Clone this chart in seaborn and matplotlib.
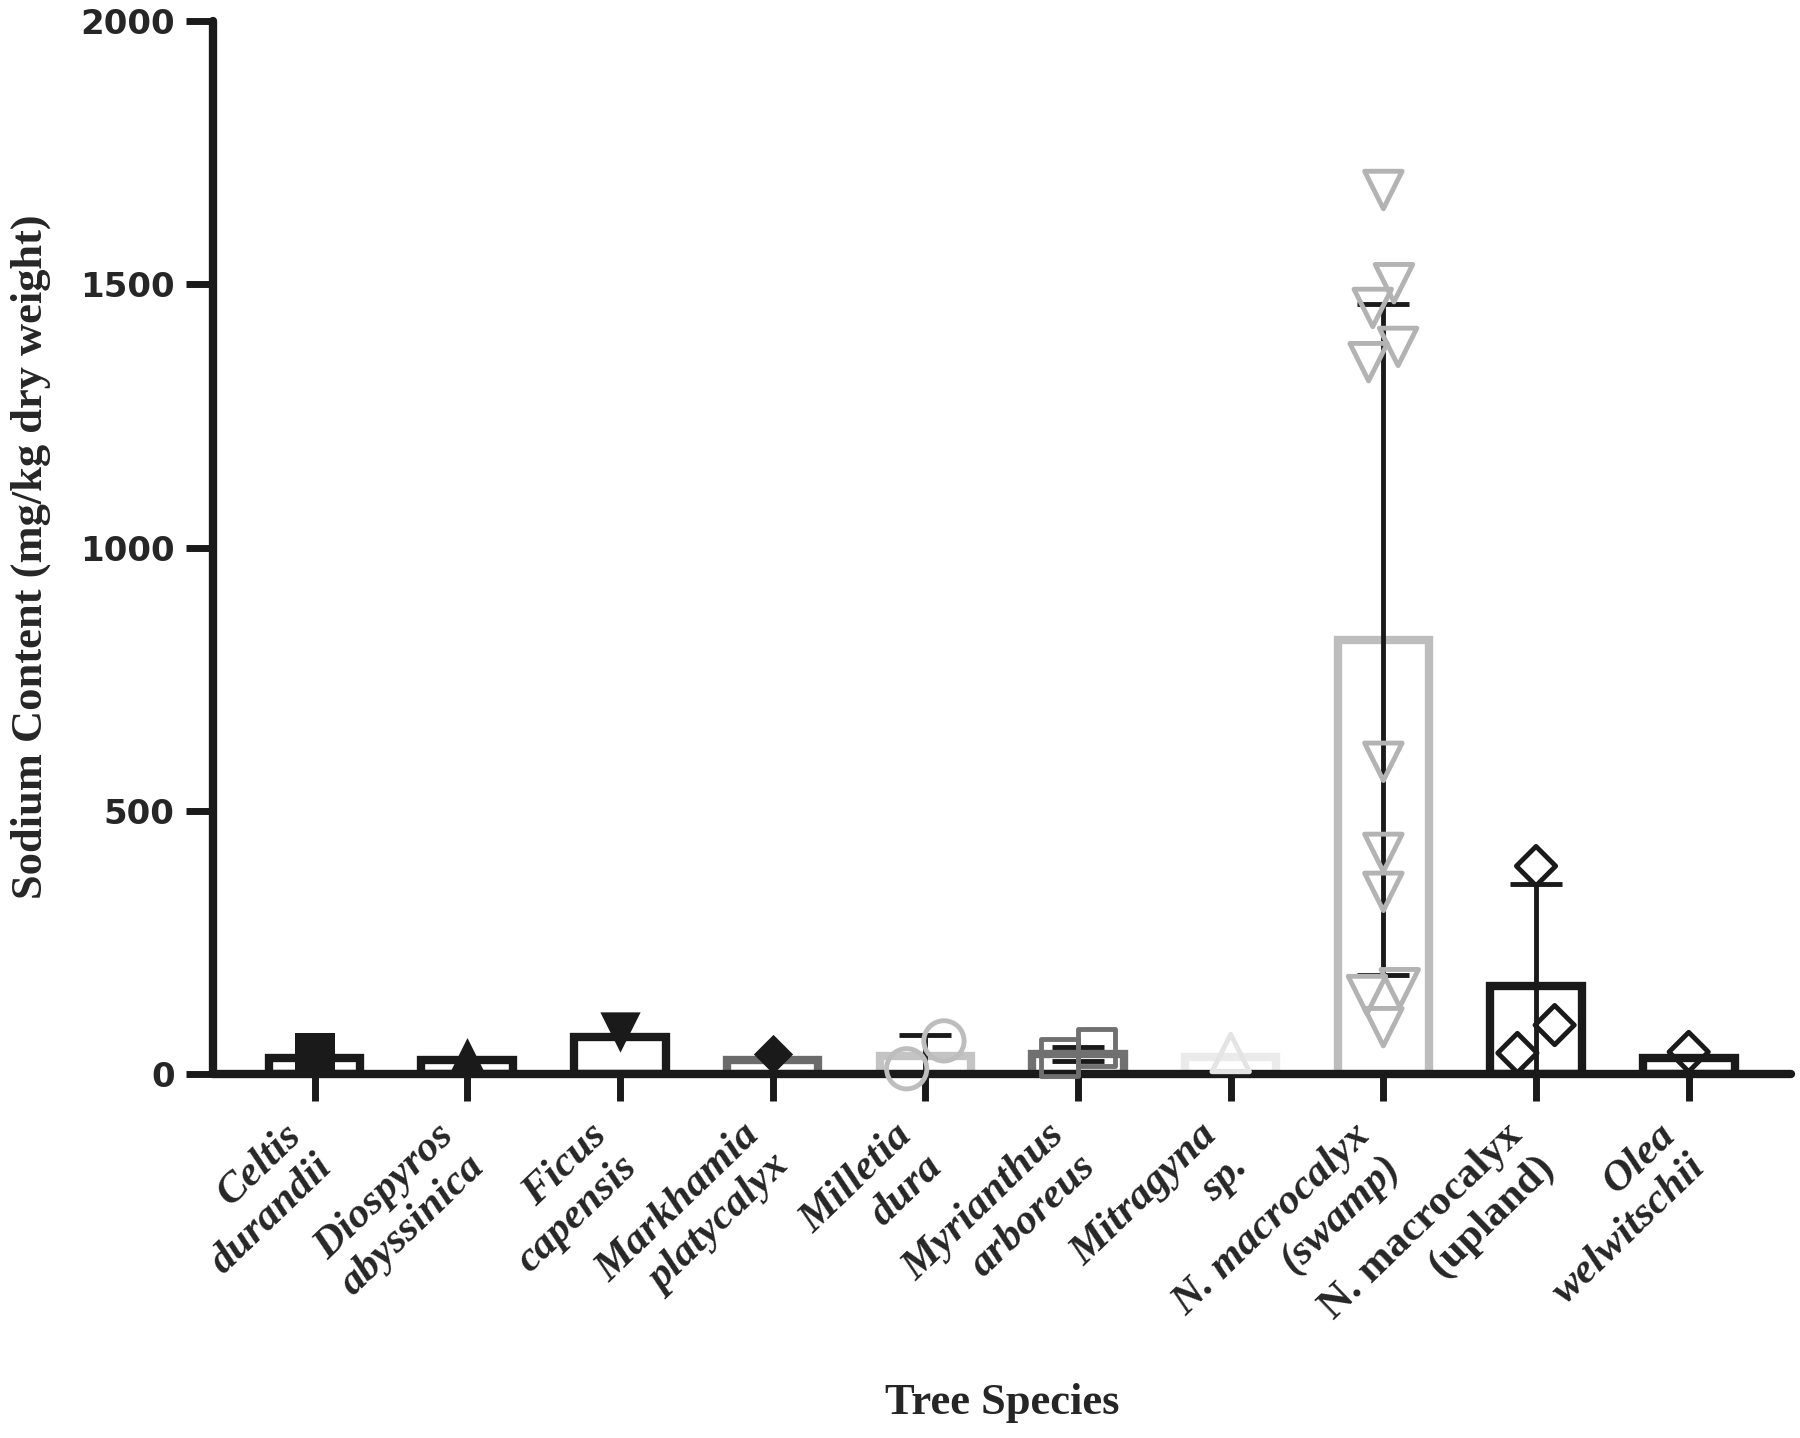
"""
Sodium content of tree species leaves (bar = mean, whiskers = SD, points = samples)
"""
import matplotlib
matplotlib.use("Agg")
import matplotlib.pyplot as plt
import matplotlib.transforms as mtrans
import numpy as np
import pandas as pd
import seaborn as sns

species = ["Celtis\ndurandii", "Diospyros\nabyssinica", "Ficus\ncapensis",
           "Markhamia\nplatycalyx", "Milletia\ndura", "Myrianthus\narboreus",
           "Mitragyna\nsp.", "N. macrocalyx\n(swamp)", "N. macrocalyx\n(upland)",
           "Olea\nwelwitschii"]

# individual readings (mg/kg dry weight)
celtis = [40]
diospyros = [32]
ficus = [80]
markhamia = [38]
milletia = [10, 63]
myrianthus = [31, 50]
mitragyna = [40]
swamp = [1679, 1502, 1455, 1381, 1352, 593, 420, 346, 163, 150, 89]
upland = [40, 93, 395]
olea = [42]
samples = [celtis, diospyros, ficus, markhamia, milletia, myrianthus,
           mitragyna, swamp, upland, olea]

# bar heights and SD whiskers as drawn
means = [30, 27, 70, 26, 35, 38, 33, 825, 168, 30]
sds = [0, 0, 0, 0, 40, 14, 0, 637, 192, 0]

bar_colors = ["#1a1a1a", "#1a1a1a", "#1a1a1a", "#6b6b6b", "#c4c4c4",
              "#707070", "#ebebeb", "#bdbdbd", "#1a1a1a", "#1a1a1a"]
markers = ["s", "^", "v", "D", "o", "s", "^", "v", "D", "D"]
mk_colors = ["#1a1a1a", "#1a1a1a", "#1a1a1a", "#1a1a1a", "#bdbdbd",
             "#707070", "#e4e4e4", "#b3b3b3", "#1a1a1a", "#1a1a1a"]
mk_open = [False, False, False, False, True, True, True, True, True, True]
mk_size = [29, 28, 29, 20, 29, 27, 27, 27, 20, 20]
# footprint used when packing the swarm (GraphPad lets markers overlap a bit)
mk_pack = [29, 28, 29, 20, 29, 23, 27, 19.5, 29, 20]

bar_df = pd.DataFrame({"species": species, "mean": means})
pts = pd.DataFrame({"species": np.repeat(species, [len(s) for s in samples]),
                    "value": np.concatenate(samples)})

sns.set_style("ticks")
fig, ax = plt.subplots(figsize=(18, 14.38), dpi=100)
fig.subplots_adjust(left=0.1183, right=0.995, bottom=0.2531, top=0.9854)

sns.barplot(data=bar_df, x="species", y="mean", hue="species", order=species,
            hue_order=species, palette=bar_colors, fill=False, linewidth=6,
            width=0.6, errorbar=None, legend=False, ax=ax)

idx = np.arange(len(species))
m = np.array(sds) > 0
ax.errorbar(idx[m], np.array(means)[m], yerr=np.array(sds)[m], fmt="none",
            ecolor="#1a1a1a", elinewidth=3.5, capsize=19, capthick=3.5,
            zorder=3)

colls = []
for i, sp in enumerate(species):
    sub = pts[pts.species == sp]
    n0 = len(ax.collections)
    sns.swarmplot(data=sub, x="species", y="value", order=species,
                  marker=markers[i], color=mk_colors[i],
                  size=mk_pack[i], ax=ax)
    # seaborn adds an (empty) collection for every category; keep the real one
    new = list(ax.collections[n0:])
    c = [x for x in new if len(x.get_offsets()) > 0][0]
    for x in new:
        if x is not c:
            x.remove()
    if mk_open[i]:
        c.set_facecolor("none")
        c.set_edgecolor(mk_colors[i])
        c.set_linewidth(3.5)
    else:
        c.set_linewidth(0)
    c.set_zorder(4)
    c.set_clip_on(False)
    colls.append(c)

ax.set_xlim(-0.666, 9.67)
ax.set_ylim(0, 2000)
ax.set_yticks([0, 500, 1000, 1500, 2000])
ax.set_xticks(idx)

for s in ["top", "right"]:
    ax.spines[s].set_visible(False)
for s in ["left", "bottom"]:
    ax.spines[s].set_linewidth(6)
    ax.spines[s].set_color("#1a1a1a")
    ax.spines[s].set_capstyle("round")
ax.tick_params(axis="both", width=5, length=19.5, color="#1a1a1a")
ax.tick_params(axis="y", pad=8)
ax.tick_params(axis="x", pad=11)

ax.set_xticklabels(species, rotation=44, ha="right", va="top",
                   rotation_mode="anchor", multialignment="right",
                   family="Liberation Serif", weight="bold", style="italic",
                   fontsize=31)
ax.get_xticklabels()[8].set_style("normal")
shift = mtrans.ScaledTranslation(-32 / 100, 0, fig.dpi_scale_trans)
for t in ax.get_xticklabels():
    t.set_transform(t.get_transform() + shift)
for t in ax.get_yticklabels():
    t.set_family("DejaVu Sans")
    t.set_weight("bold")
    t.set_fontsize(24.5)

ax.set_ylabel("Sodium Content (mg/kg dry weight)", family="Liberation Serif",
              weight="bold", fontsize=32, va="center")
ax.yaxis.set_label_coords(-0.1153, 0.491)
ax.set_xlabel("Tree Species", family="Liberation Serif", weight="bold",
              fontsize=32, va="center")
ax.xaxis.set_label_coords(0.5, -0.3124)

# lay out the swarms, freeze them, centre each touching cluster on its tick
# (mirrored, GraphPad puts the first spill-over on the right) and blow the
# markers up to full size
fig.canvas.draw()
for i, (c, sz, pk) in enumerate(zip(colls, mk_size, mk_pack)):
    c.__dict__.pop("draw", None)
    c.set_sizes([sz ** 2])
    xy = ax.transData.transform(c.get_offsets())
    cx = ax.transData.transform((i, 0))[0]
    gap = (pk + c.get_linewidth()[0]) * fig.dpi / 72
    order = np.argsort(xy[:, 1])
    groups, cur = [], [order[0]]
    for a, b in zip(order[:-1], order[1:]):
        if xy[b, 1] - xy[a, 1] < gap:
            cur.append(b)
        else:
            groups.append(cur)
            cur = [b]
    groups.append(cur)
    for g in groups:
        xs = xy[g, 0]
        xy[g, 0] = cx - (xs - (xs.min() + xs.max()) / 2)
    c.set_offsets(ax.transData.inverted().transform(xy))

plt.savefig("out.png", dpi=100)
